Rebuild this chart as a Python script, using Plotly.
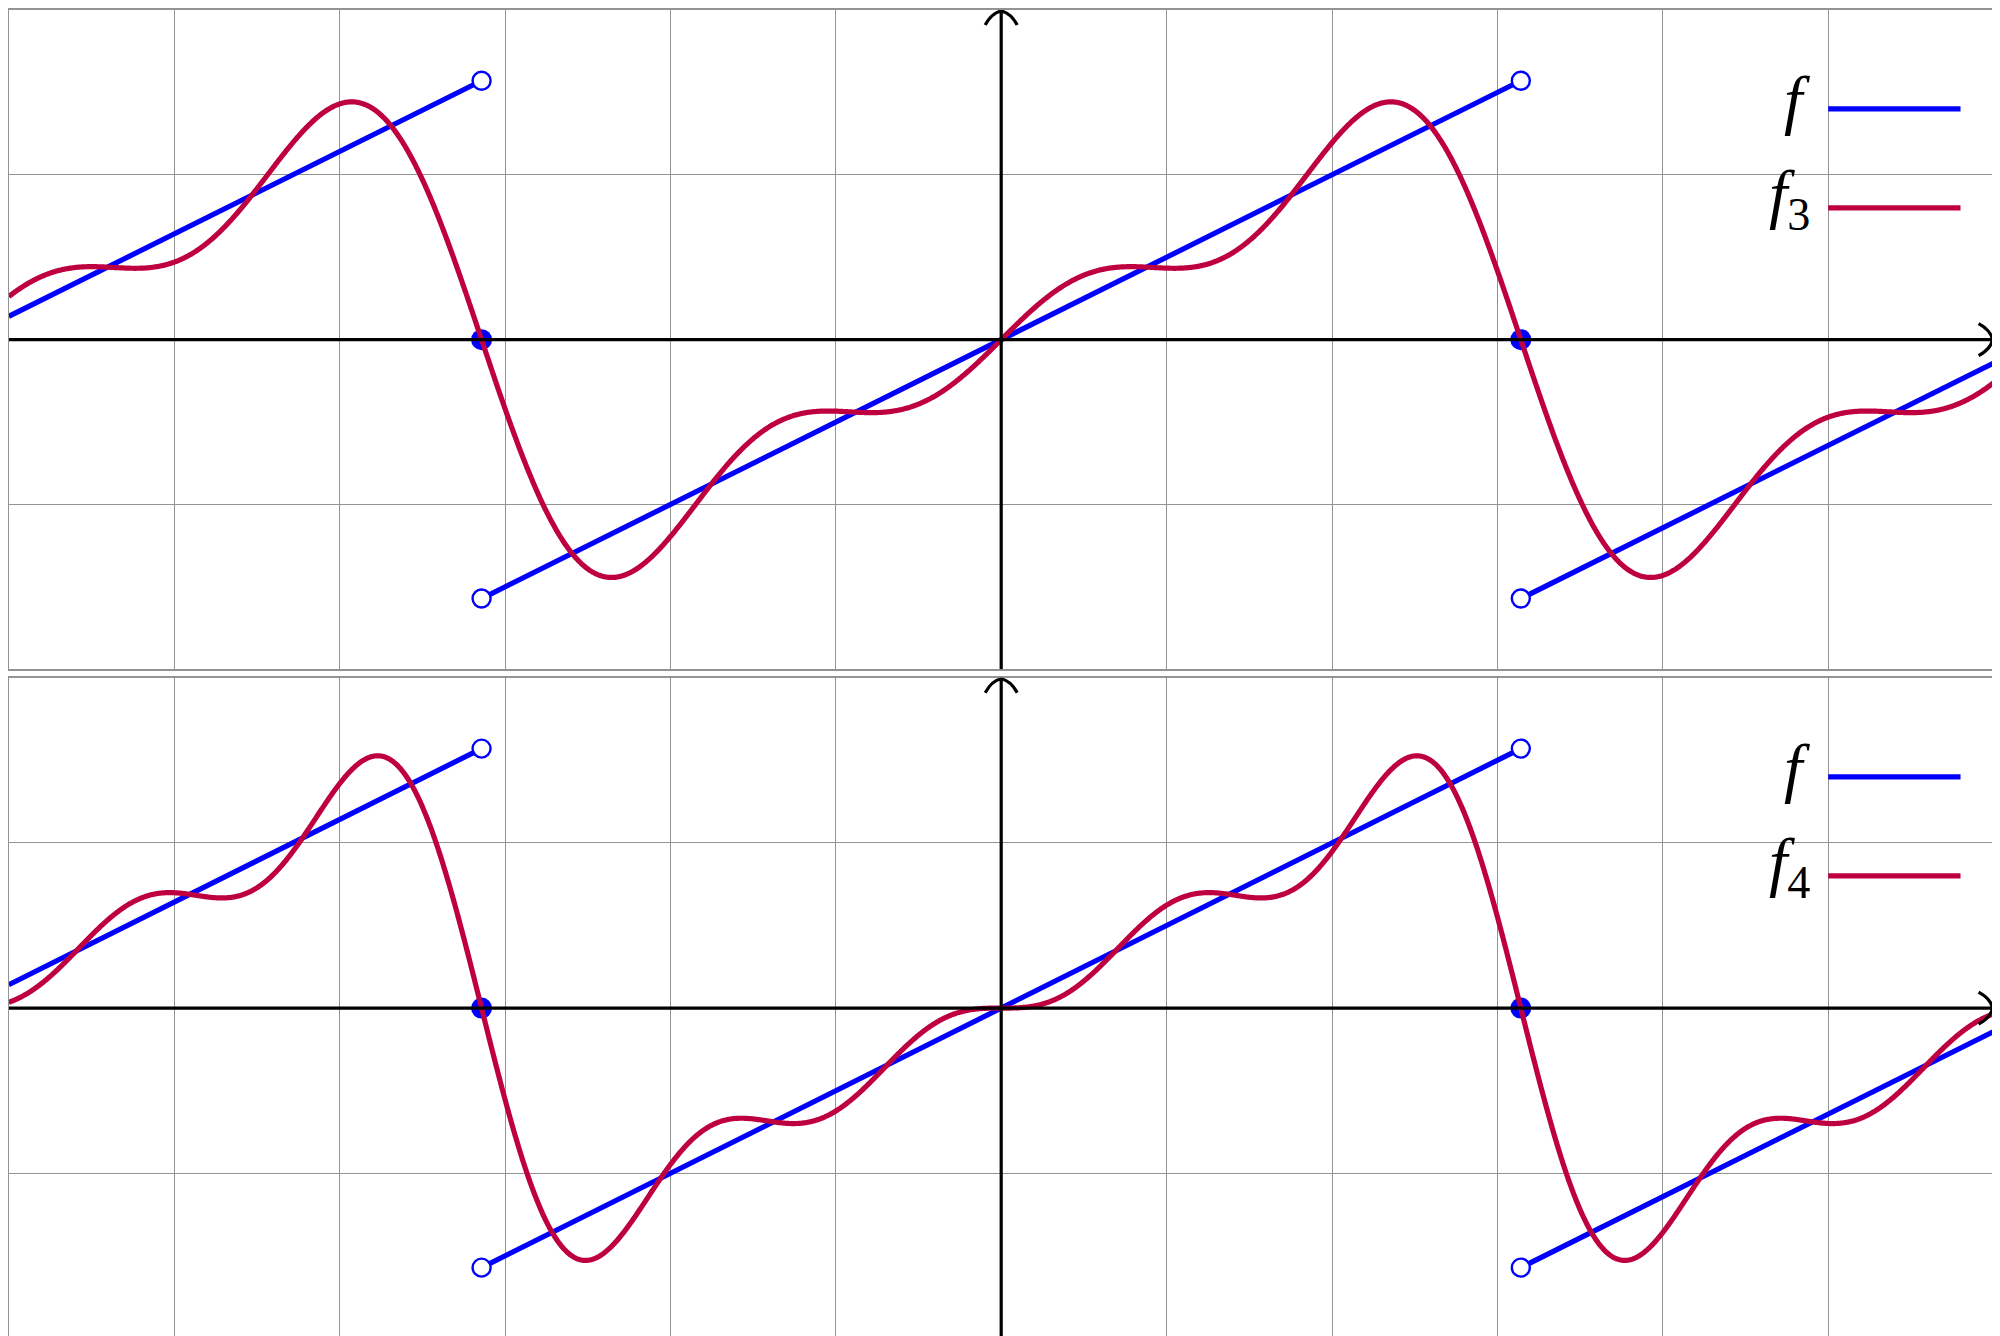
import numpy as np
import plotly.graph_objects as go

# ---- data ----
x_range = [-6, 6]
y_range = [-2, 2]
f_slope = 0.5                      # f(x) = x/2 on (-pi, pi), 2pi-periodic
period = 2 * np.pi
coef_f3 = [1.0, -1 / 2, 1 / 3]     # Fourier sine coefficients of f
coef_f4 = [1.0, -1 / 2, 1 / 3, -1 / 4]
jump_x = [-np.pi, np.pi]
legend_labels_top = ["<i>f</i>", "<i>f</i><sub>3</sub>"]
legend_labels_bot = ["<i>f</i>", "<i>f</i><sub>4</sub>"]

BLUE = "#0000FF"
PURPLE = "rgb(191,0,64)"
GRID = "#939393"
LW = 5.2

# The page body has an 8px margin, so figure coords = page coords - 8
OFF = 8
W, H = 1992, 1328
px_left, px_right = 8.8 - OFF, 1993.6 - OFF
top_panel = (8.0 - OFF, 668.3 - OFF)      # pixel top, bottom (figure coords)
bot_top = 676.7 - OFF
unit_top = (top_panel[1] - top_panel[0]) / 4.0
unit_bot = 165.45
bot_bottom_val = 2 - (H - bot_top) / unit_bot
unit_x = (px_right - px_left) / 12.0

xs = np.linspace(x_range[0], x_range[1], 2401)


def fourier(coefs, x):
    return sum(c * np.sin((k + 1) * x) for k, c in enumerate(coefs))


def sawtooth_segments():
    segs = []
    edges = [x_range[0]] + jump_x + [x_range[1]]
    for a, b in zip(edges[:-1], edges[1:]):
        seg_x = np.linspace(a, b, 50)
        mid = 0.5 * (a + b)
        shift = np.round(mid / period) * period
        segs.append((seg_x, f_slope * (seg_x - shift)))
    return segs


fig = go.Figure()


def add_panel(row, coefs, labels):
    xa = "x" if row == 1 else "x2"
    ya = "y" if row == 1 else "y2"
    unit_y = unit_top if row == 1 else unit_bot
    # f segments
    xx, yy = [], []
    for sx, sy in sawtooth_segments():
        xx += list(sx) + [None]
        yy += list(sy) + [None]
    fig.add_trace(go.Scatter(x=xx, y=yy, mode="lines", line=dict(color=BLUE, width=LW),
                             xaxis=xa, yaxis=ya, hoverinfo="skip"))
    # open endpoints
    ox, oy = [], []
    for j in jump_x:
        ox += [j, j]
        oy += [f_slope * np.pi, -f_slope * np.pi]
    fig.add_trace(go.Scatter(x=ox, y=oy, mode="markers",
                             marker=dict(size=18, color="white", line=dict(color=BLUE, width=2.4)),
                             xaxis=xa, yaxis=ya, hoverinfo="skip", cliponaxis=False))
    fig.add_trace(go.Scatter(x=jump_x, y=[0, 0], mode="markers",
                             marker=dict(size=21, color=BLUE, line=dict(width=0)),
                             xaxis=xa, yaxis=ya, hoverinfo="skip", cliponaxis=False))
    # partial sum
    fig.add_trace(go.Scatter(x=xs, y=fourier(coefs, xs), mode="lines",
                             line=dict(color=PURPLE, width=LW, simplify=False),
                             xaxis=xa, yaxis=ya, hoverinfo="skip"))
    ylo = y_range[0] if row == 1 else bot_bottom_val
    # axes lines
    fig.add_shape(type="line", x0=x_range[0], x1=x_range[1], y0=0, y1=0, xref=xa, yref=ya,
                  line=dict(color="black", width=3.2))
    fig.add_shape(type="line", x0=0, x1=0, y0=ylo, y1=y_range[1], xref=xa, yref=ya,
                  line=dict(color="black", width=3.2))
    # arrow tips (curved "to" style)
    ax_ = 14 / unit_x
    by_ = 16 / unit_y
    tx = x_range[1] - 1.0 / unit_x
    p = (f"M {tx - ax_},{by_} Q {tx - 0.15 * ax_},{0.6 * by_} {tx},0 "
         f"Q {tx - 0.15 * ax_},{-0.6 * by_} {tx - ax_},{-by_}")
    fig.add_shape(type="path", path=p, xref=xa, yref=ya, line=dict(color="black", width=3.2))
    ay_ = 14 / unit_y
    bx_ = 16 / unit_x
    ty = y_range[1] - 1.0 / unit_y
    p = (f"M {-bx_},{ty - ay_} Q {-0.6 * bx_},{ty - 0.15 * ay_} 0,{ty} "
         f"Q {0.6 * bx_},{ty - 0.15 * ay_} {bx_},{ty - ay_}")
    fig.add_shape(type="path", path=p, xref=xa, yref=ya, line=dict(color="black", width=3.2))
    # legend
    for lab, col, ly in zip(labels, [BLUE, PURPLE], [1.4, 0.8]):
        fig.add_shape(type="line", x0=5.0, x1=5.8, y0=ly, y1=ly, xref=xa, yref=ya,
                      line=dict(color=col, width=LW))
        fig.add_annotation(x=4.9, y=ly, xref=xa, yref=ya, text=lab, showarrow=False,
                           xanchor="right", yanchor="middle", yshift=9,
                           font=dict(family="Liberation Serif, DejaVu Serif, serif",
                                     size=66, color="black"))


add_panel(1, coef_f3, legend_labels_top)
add_panel(2, coef_f4, legend_labels_bot)

axis_common = dict(showgrid=True, gridcolor=GRID, gridwidth=1.3, dtick=1, tick0=0,
                   zeroline=False, showticklabels=False, ticks="",
                   showline=True, linecolor=GRID, linewidth=1.6, mirror=True, fixedrange=True)

xdom = [px_left / W, px_right / W]
fig.update_layout(
    width=W, height=H,
    margin=dict(l=0, r=0, t=0, b=0),
    paper_bgcolor="white", plot_bgcolor="white",
    showlegend=False,
    xaxis=dict(domain=xdom, range=x_range, anchor="y", **axis_common),
    yaxis=dict(domain=[1 - top_panel[1] / H, 1 - top_panel[0] / H], range=y_range,
               anchor="x", **axis_common),
    xaxis2=dict(domain=xdom, range=x_range, anchor="y2", **axis_common),
    yaxis2=dict(domain=[0, 1 - bot_top / H], range=[bot_bottom_val, y_range[1]],
                anchor="x2", **axis_common),
)

fig.write_html("out.html")
